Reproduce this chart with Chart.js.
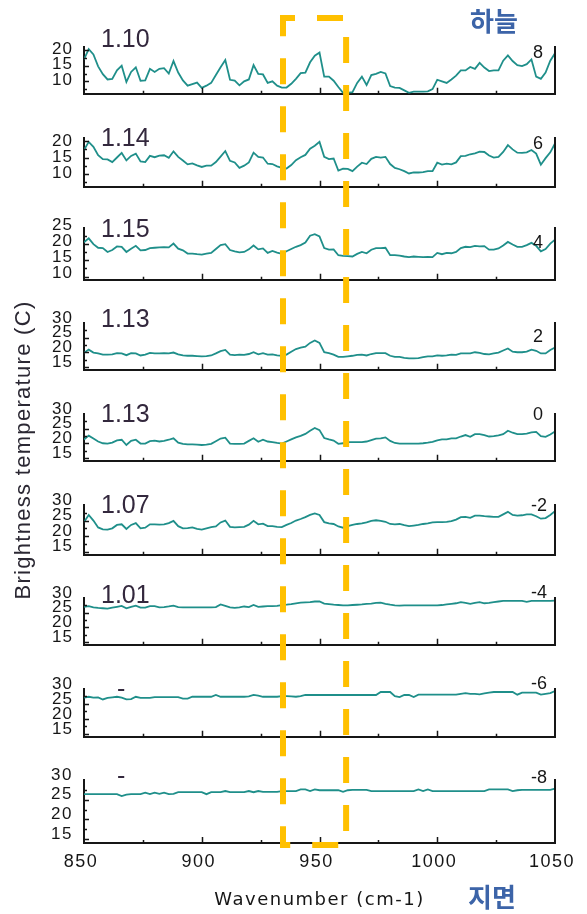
<!DOCTYPE html>
<html>
<head>
<meta charset="utf-8">
<script src="https://cdn.jsdelivr.net/npm/chart.js@4.4.1/dist/chart.umd.min.js"></script>
<style>
  html, body { margin: 0; padding: 0; background: #fff; }
  #fig { position: relative; width: 587px; height: 914px; overflow: hidden; }
  #fig canvas { position: absolute; left: 0; }
</style>
</head>
<body>
<div id="fig"></div>
<script>
// wavenumber grid (cm-1), shared by every panel
const WAVENUMBER = [
  850, 852, 854, 856, 858, 860, 862, 864, 866, 868,
  870, 872, 874, 876, 878, 880, 882, 884, 886, 888,
  890, 892, 894, 896, 898, 900, 902, 904, 906, 908,
  910, 912, 914, 916, 918, 920, 922, 924, 926, 928,
  930, 932, 934, 936, 938, 940, 942, 944, 946, 948,
  950, 952, 954, 956, 958, 960, 962, 964, 966, 968,
  970, 972, 974, 976, 978, 980, 982, 984, 986, 988,
  990, 992, 994, 996, 998, 1000, 1002, 1004, 1006, 1008,
  1010, 1012, 1014, 1016, 1018, 1020, 1022, 1024, 1026, 1028,
  1030, 1032, 1034, 1036, 1038, 1040, 1042, 1044, 1046, 1048,
  1050
];

// brightness temperature (C), top panel (8) down to bottom panel (-8)
const BT_P8 = [
  17, 20.3, 18.6, 14.8, 12.3, 10.6, 10.8, 13.5, 15, 9.8,
  13, 14.5, 10.2, 10.3, 14, 13, 14, 14.2, 12.5, 16.5,
  12.8, 10.3, 8.6, 9.1, 9.6, 7.9, 8.6, 9.5, 12, 14.5,
  16.8, 10.5, 10.2, 8.7, 10, 10.6, 15.2, 12.4, 12.2, 9.5,
  10, 8.6, 8, 8, 9.2, 10.8, 12.6, 12.8, 16.1, 18.2,
  19.2, 11.5, 11.5, 10.2, 8.2, 6.3, 6.3, 6.5, 9.5, 11.5,
  8.8, 12, 12.4, 13, 12.5, 8.5, 8, 7.9, 7.1, 6.3,
  6.7, 6.7, 6.7, 6.8, 7.5, 10.5, 10, 9.5, 10.6, 11.8,
  13.5, 13.5, 14.6, 14, 15.9, 14.4, 13.3, 13.5, 13.5, 16.6,
  18.3, 16.5, 15.2, 14.9, 15.5, 17, 11.5, 10.8, 12.8, 16.6,
  19
];
const BT_P6 = [
  17.3, 19.8, 18.3, 15.7, 14.5, 14.4, 13.6, 15, 16.4, 14.1,
  15.5, 16.2, 13.8, 13.6, 15.5, 15.1, 15.6, 15.7, 14.9, 16.9,
  15.2, 14.1, 12.9, 13.2, 12.6, 12.1, 12.5, 12.5, 13.6, 15.3,
  17, 14, 13.5, 11.8, 12.5, 13.5, 16.5, 15.2, 15, 13.1,
  13, 12.3, 11.8, 11.6, 12.7, 14.2, 15.1, 15.8, 17.7, 18.6,
  19.8, 15.2, 14.5, 14.7, 11, 11.6, 11.5, 10.8, 12.2, 13.4,
  13, 14.6, 15.2, 15, 15.2, 13, 11.8, 11.4, 10.8, 10.1,
  10.4, 10.4, 10.5, 10.8, 10.8, 13.4, 12.8, 13.1, 12.9, 13.5,
  15.4, 15.5, 16, 16.3, 16.8, 16.7, 15.6, 15, 15.2, 16.7,
  18.8, 17.5, 16.5, 16.4, 16.6, 17.3, 16.2, 12.8, 14.8, 16.6,
  19.3
];
const BT_P4 = [
  20.6, 21.8, 20, 18.9, 18.8, 17.6, 18.2, 19.3, 19.2, 17.6,
  18.6, 19.5, 18.1, 18.2, 18.8, 18.9, 19, 19.1, 19, 20.2,
  18.6, 18.1, 17.1, 17.1, 16.9, 16.8, 17.1, 17.3, 18.5, 19.7,
  20, 18.2, 17.8, 17.5, 17.6, 18.4, 19.6, 18.4, 18.7, 17.3,
  17.9, 17.4, 17, 17.8, 18.5, 19.2, 19.7, 20.5, 22.6, 23.1,
  22.4, 18.8, 18.3, 18.4, 16.6, 16.4, 16.3, 16.2, 17, 17.6,
  17.2, 18.3, 18.8, 18.8, 18.9, 16.6, 16.6, 16.5, 16.2, 16,
  16.2, 16.1, 16, 16.1, 16, 17.3, 16.9, 17.3, 17.2, 17.6,
  18.8, 19.2, 19.1, 19.5, 19.3, 19.4, 18.3, 18.3, 18.7, 19.6,
  20.7, 19.9, 19.2, 19.2, 19.7, 20.4, 19.5, 17.8, 18.5, 20.2,
  21.4
];
const BT_P2 = [
  19.8, 20.9, 19.9, 19.6, 19.2, 19.2, 19.3, 19.7, 19.6, 19,
  19.7, 19.6, 18.9, 19.2, 19.8, 19.6, 19.6, 19.7, 19.6, 19.9,
  19.3, 18.9, 18.8, 18.8, 18.7, 18.6, 18.7, 18.9, 19.6, 20.4,
  20.8, 19.2, 19, 19.2, 19.1, 19.4, 20, 19.3, 19.7, 19.2,
  19.3, 18.9, 18.8, 19.2, 20.2, 21.1, 21.6, 21.9, 23.2, 24,
  23.2, 20, 19.7, 19.2, 18.4, 18.4, 18.6, 18.8, 19.1, 19.2,
  18.9, 19.4, 19.7, 19.7, 19.7, 18.8, 18.4, 18.4, 18.1, 17.9,
  17.9, 18, 18.3, 18.6, 18.6, 18.9, 18.8, 18.9, 19.2, 19.1,
  19.6, 19.6, 19.6, 20, 19.8, 19.4, 19.3, 19.6, 19.9, 20.6,
  21.3, 20.2, 20, 20, 20.2, 20.9, 20.5, 19.6, 19.6, 20.8,
  21.6
];
const BT_0 = [
  21.3, 22.6, 21.6, 20.6, 20, 19.9, 20.2, 21, 21.2, 19.4,
  20.8, 21.2, 19.9, 19.9, 20.7, 20.9, 20.6, 20.8, 21.2, 21.7,
  20.2, 19.8, 19.6, 19.6, 19.5, 19.4, 19.5, 19.8, 20.7, 21.6,
  21.9, 19.9, 19.8, 19.8, 19.9, 20.8, 21.7, 20.5, 21.2, 20.6,
  20.4, 20.1, 19.9, 20.6, 21.3, 22, 22.5, 23.2, 24.3, 25.2,
  24.5, 21.8, 21.3, 20.9, 19.8, 20, 20.4, 20.4, 20.4, 20.4,
  20.6, 21.1, 21.6, 21.7, 22, 20.8, 20.1, 19.9, 19.9, 19.9,
  19.9, 19.9, 20, 20.2, 20.5, 21, 21.3, 21.3, 21.7, 21.7,
  22.3, 22.8, 22.2, 23.1, 23.1, 22.8, 22.3, 22.4, 22.7, 23.1,
  24.3, 23.6, 23.1, 23.1, 23.3, 23.7, 23.9, 22.4, 22.2, 23,
  24
];
const BT_M2 = [
  24.5, 26.8, 25, 22.8, 22.2, 22.1, 22.5, 23.6, 23.8, 22.3,
  23.6, 24.2, 22.5, 22.7, 23.8, 23.8, 23.7, 23.8, 24.2, 24.9,
  23.2, 22.5, 22.6, 22.8, 22.3, 22.1, 22.5, 22.9, 23.1, 24.4,
  25, 23, 22.8, 22.9, 23, 23.7, 24.9, 23.8, 24, 23.2,
  23.2, 23, 22.9, 23.6, 24.2, 25, 25.5, 26.1, 26.8, 27.3,
  26.8, 24.5, 24.1, 23.9, 23.1, 22.7, 23.2, 23.6, 23.9, 24.1,
  24.4, 24.9, 25.1, 24.9, 24.6, 23.9, 23.8, 23.9, 23.5, 23.2,
  23.4, 23.6, 23.9, 24.1, 24.4, 24.5, 24.5, 24.6, 24.8, 25.3,
  26.1, 26.2, 25.9, 26.6, 26.6, 26.4, 26.3, 26.2, 26.2, 27,
  27.8, 26.8, 26.6, 26.7, 27, 27, 26.4, 25.6, 25.8, 26.8,
  28
];
const BT_M4 = [
  27, 27.2, 26.8, 26.6, 26.5, 26.4, 26.7, 27, 27.3, 26.5,
  27, 27.4, 26.7, 26.7, 27.2, 27.2, 26.8, 26.9, 27.1, 27.4,
  26.9, 26.8, 26.8, 26.8, 26.8, 26.8, 26.8, 26.8, 26.9, 27.8,
  27.3, 26.8, 26.6, 26.8, 27.1, 26.9, 27.6, 27, 27.1, 27.2,
  27.2, 27.3, 27.6, 27.7, 27.9, 28.2, 28.4, 28.5, 28.6, 28.8,
  28.8, 28.1, 27.9, 27.7, 27.6, 27.5, 27.5, 27.6, 27.7, 27.8,
  28, 28.1, 28.3, 28.4, 28, 27.7, 27.5, 27.4, 27.5, 27.5,
  27.5, 27.5, 27.5, 27.5, 27.5, 27.5, 27.6, 27.8, 28, 28.2,
  28.6, 28.3, 28, 28.3, 28.6, 28.2, 28.3, 28.6, 28.8, 29,
  29, 29, 29, 29, 28.7, 29, 29, 29, 29, 29,
  29.1
];
const BT_M6 = [
  27.1, 27.4, 27.1, 27.2, 26.5, 27, 27.2, 27.4, 27.1, 26.5,
  26.6, 27.4, 27, 27, 27, 27.3, 27.3, 27.3, 27.3, 27.3,
  27.3, 26.8, 26.8, 27.4, 27.4, 27.4, 27.4, 27.4, 28, 27.4,
  27.4, 27.4, 27.4, 27.4, 27.4, 27.5, 28, 27.8, 27.4, 27.4,
  27.4, 27.4, 27.6, 27.6, 27.5, 27.4, 27.6, 28, 28, 28,
  28, 28, 28, 28, 28, 28, 28, 28, 28, 28,
  28, 28, 28, 29, 29, 29, 27.6, 27.3, 28, 28,
  27.3, 28.1, 28.1, 28.1, 28.1, 28.1, 28.1, 28.1, 28.1, 28.1,
  28.4, 28.6, 28.4, 28.4, 28.2, 28.5, 28.8, 29, 29, 29,
  29, 29, 28.1, 28.8, 28.8, 28.8, 28.8, 28.1, 28.4, 28.6,
  29.3
];
const BT_M8 = [
  26.4, 26.4, 26.4, 26.4, 26.4, 26.4, 26.4, 26.4, 25.9, 26.3,
  26.4, 26.4, 26.4, 26.8, 26.4, 26.8, 26.5, 26.8, 26.4, 26.5,
  26.9, 26.9, 26.9, 26.9, 26.9, 26.9, 26.4, 26.9, 26.9, 26.9,
  27.2, 26.9, 26.9, 26.9, 26.9, 27.2, 26.9, 27.2, 27, 27,
  27, 27, 27.2, 27.2, 27.2, 27.2, 27.6, 27.6, 27.2, 27.6,
  27.4, 27.4, 27.4, 27.4, 27.4, 27, 27.4, 27.5, 27.5, 27.5,
  27.5, 27.2, 27.2, 27.2, 27.2, 27.2, 27.2, 27.2, 27.2, 27.2,
  27.2, 27.6, 27.2, 27.6, 27.2, 27.2, 27.2, 27.2, 27.2, 27.2,
  27.2, 27.2, 27.2, 27.2, 27.2, 27.2, 27.6, 27.6, 27.6, 27.6,
  27.6, 27.2, 27.4, 27.5, 27.5, 27.5, 27.5, 27.5, 27.5, 27.5,
  27.8
];

const SERIES = [BT_P8, BT_P6, BT_P4, BT_P2, BT_0, BT_M2, BT_M4, BT_M6, BT_M8];
const RATIO_TAGS = ['1.10', '1.14', '1.15', '1.13', '1.13', '1.07', '1.01', '-', '-'];
const HEIGHT_TAGS = ['8', '6', '4', '2', '0', '-2', '-4', '-6', '-8'];

const Y_RANGES = [[6, 21], [6, 21], [9, 25], [14, 30], [14, 30], [14, 30], [14, 30], [14, 30], [14, 30]];
const Y_TICKS = [
  [10, 15, 20], [10, 15, 20], [10, 15, 20, 25],
  [15, 20, 25, 30], [15, 20, 25, 30], [15, 20, 25, 30],
  [15, 20, 25, 30], [15, 20, 25, 30], [15, 20, 25, 30]
];
const X_RANGE = [850, 1050];
const X_TICKS = [850, 900, 950, 1000, 1050];
const BAND = [934.5, 961.3]; // highlighted window

// page layout
const W = 587, H = 914;
const AXIS_LEFT = 84, AXIS_RIGHT = 555;
const PANEL_TOP = [47, 138, 228, 323, 414, 505, 598, 689, 780];
const PANEL_BOTTOM = [107, 200, 293, 383, 474, 568, 658, 750, 843];
const TAG_DY = [0, 8, 9, 4, 8, 8, 5, 8, 4];
const NUM_DY = [11, 11, 20, 19, 6, 6, 0, 0, 3];
const LABEL_SHIFT = [-1, 0, -3, -5, -5, -5, -5, -5, -5];
const PAD_TOP = 34, PAD_BOTTOM = 8;

const LINE = '#1f8f8a';
const INK = '#161616';
const TAG_INK = '#33283d';
const KO_INK = '#3c64a8';

// right spine, inward tick marks and the two panel tags
const panelDecor = {
  id: 'panelDecor',
  beforeDraw(chart, args, opts) {
    chart.ctx.letterSpacing = opts.spacing;
  },
  afterDraw(chart, args, opts) {
    const { ctx, chartArea: a, scales: { x, y } } = chart;
    ctx.save();
    ctx.letterSpacing = '0px';
    ctx.strokeStyle = INK;
    ctx.lineWidth = 2;
    ctx.beginPath();
    ctx.moveTo(a.right, a.top - 1);
    ctx.lineTo(a.right, a.bottom);
    ctx.stroke();

    ctx.lineWidth = 1.5;
    ctx.beginPath();
    for (let v = x.min + 25; v < x.max; v += 25) {
      const px = Math.round(x.getPixelForValue(v)) + 0.5;
      const len = v % 50 === 0 ? 6 : 3;
      ctx.moveTo(px, a.bottom);
      ctx.lineTo(px, a.bottom - len);
    }
    for (let v = Math.ceil(y.min / 2.5) * 2.5; v < y.max; v += 2.5) {
      const py = Math.round(y.getPixelForValue(v)) + 0.5;
      const len = v % 5 === 0 ? 5 : 3;
      ctx.moveTo(a.left, py);
      ctx.lineTo(a.left + len, py);
    }
    ctx.stroke();

    ctx.fillStyle = TAG_INK;
    ctx.font = '25px "Liberation Sans", Arial, sans-serif';
    ctx.textAlign = 'left';
    ctx.textBaseline = 'alphabetic';
    const tx = opts.tag === '-' ? a.left + 33 : a.left + 17;
    ctx.fillText(opts.tag, tx, a.top + opts.tagDy);

    ctx.fillStyle = INK;
    ctx.font = '18px "Liberation Sans", Arial, sans-serif';
    ctx.textAlign = 'right';
    const nx = opts.num.startsWith('-') ? a.right - 8 : a.right - 12;
    ctx.fillText(opts.num, nx, a.top + opts.numDy);
    ctx.restore();
  }
};

const fig = document.getElementById('fig');

const charts = SERIES.map((values, i) => {
  const last = i === SERIES.length - 1;
  const top = PANEL_TOP[i] - PAD_TOP;
  const xAxisH = last ? H - PANEL_BOTTOM[i] : 0;
  const height = PANEL_BOTTOM[i] - top + (last ? xAxisH : PAD_BOTTOM);

  const canvas = document.createElement('canvas');
  canvas.width = W;
  canvas.height = height;
  canvas.style.top = top + 'px';
  fig.appendChild(canvas);

  return new Chart(canvas, {
    type: 'line',
    data: {
      datasets: [{
        data: values.map((v, k) => ({ x: WAVENUMBER[k], y: v })),
        borderColor: LINE,
        borderWidth: 1.8,
        pointRadius: 0,
        tension: 0,
        fill: false
      }]
    },
    options: {
      responsive: false,
      maintainAspectRatio: false,
      animation: false,
      events: [],
      layout: { padding: { top: PAD_TOP, bottom: last ? 0 : PAD_BOTTOM, left: 0, right: W - AXIS_RIGHT } },
      plugins: {
        legend: { display: false },
        tooltip: { enabled: false },
        panelDecor: {
          tag: RATIO_TAGS[i], num: HEIGHT_TAGS[i],
          tagDy: TAG_DY[i], numDy: NUM_DY[i],
          spacing: last ? '1.5px' : '1px'
        }
      },
      scales: {
        x: {
          type: 'linear',
          min: X_RANGE[0],
          max: X_RANGE[1],
          afterBuildTicks: s => { s.ticks = X_TICKS.map(v => ({ value: v })); },
          afterFit: s => { s.height = xAxisH; },
          grid: { display: false, drawTicks: false },
          border: { display: true, color: INK, width: 2 },
          ticks: {
            display: last,
            autoSkip: false,
            maxRotation: 0,
            padding: 8,
            labelOffset: -3,
            color: INK,
            font: { family: '"Liberation Sans", Arial, sans-serif', size: 18 },
            callback: v => String(v)
          },
          title: {
            display: last,
            text: 'Wavenumber (cm-1)',
            color: INK,
            font: { family: '"DejaVu Sans", sans-serif', size: 18 },
            padding: { top: 0, bottom: 3 }
          }
        },
        y: {
          min: Y_RANGES[i][0],
          max: Y_RANGES[i][1],
          afterBuildTicks: s => { s.ticks = Y_TICKS[i].map(v => ({ value: v })); },
          afterFit: s => { s.width = AXIS_LEFT; },
          grid: { display: false, drawTicks: false },
          border: { display: true, color: INK, width: 2 },
          ticks: {
            autoSkip: false,
            padding: 11,
            labelOffset: LABEL_SHIFT[i],
            color: INK,
            font: { family: '"Liberation Sans", Arial, sans-serif', size: 17 }
          }
        }
      }
    },
    plugins: [panelDecor]
  });
});

// figure-level overlay: shared axis title, side captions, highlighted window
const overlay = document.createElement('canvas');
overlay.width = W;
overlay.height = H;
overlay.style.top = '0px';
overlay.style.pointerEvents = 'none';
fig.appendChild(overlay);
const g = overlay.getContext('2d');

g.save();
g.translate(24, 450);
g.rotate(-Math.PI / 2);
g.fillStyle = '#2b2833';
g.font = '22px "Liberation Sans", Arial, sans-serif';
g.letterSpacing = '1.3px';
g.textAlign = 'center';
g.textBaseline = 'middle';
g.fillText('Brightness temperature (C)', 0, 0);
g.restore();

g.fillStyle = KO_INK;
g.font = 'bold 26px "Noto Sans CJK KR", sans-serif';
g.textAlign = 'left';
g.textBaseline = 'middle';
g.fillText('하늘', 470, 21);
g.fillText('지면', 468, 897);

const xs = charts[charts.length - 1].scales.x;
const L = xs.getPixelForValue(BAND[0]);
const R = xs.getPixelForValue(BAND[1]);
const T = 18, B = 845;
g.strokeStyle = '#ffc000';
g.lineWidth = 6;
g.setLineDash([26, 22]);
g.beginPath();
g.moveTo(L, T + 14);
g.lineTo(L, T);
g.lineTo(R, T);
g.lineTo(R, B);
g.lineTo(L, B);
g.closePath();
g.stroke();
</script>
</body>
</html>
